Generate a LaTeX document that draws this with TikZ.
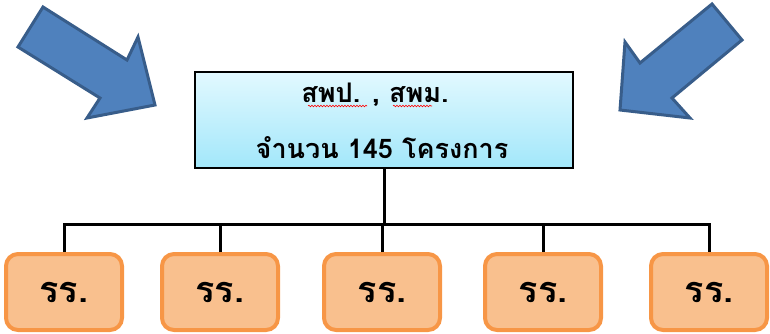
\documentclass[tikz,border=0pt]{standalone}
\usepackage{fontspec}
\newfontfamily\thaifont[Script=Thai]{Loma}
\usetikzlibrary{decorations.pathmorphing}
\definecolor{arrowfill}{HTML}{4F81BD}
\definecolor{arrowline}{HTML}{385D8A}
\definecolor{schoolfill}{HTML}{F9C08E}
\definecolor{schoolline}{HTML}{F79646}
\definecolor{boxtop}{HTML}{E2F9FF}
\definecolor{boxbottom}{HTML}{A2E7FA}
\begin{document}
\begin{tikzpicture}[x=1pt,y=-1pt,
    bigarrow/.style={fill=arrowfill,draw=arrowline,line width=3pt,line join=miter},
    topbox/.style={draw=black,line width=1.5pt,top color=boxtop,bottom color=boxbottom,
        minimum width=378pt,minimum height=96pt,inner sep=0pt},
    school/.style={draw=schoolline,fill=schoolfill,line width=4pt,rounded corners=12pt,
        minimum width=116pt,minimum height=76pt,font=\thaifont\bfseries\fontsize{36}{40}\selectfont},
    link/.style={line width=3pt,black},
    toptext/.style={font=\thaifont\bfseries\fontsize{27}{32}\selectfont},
    squiggle/.style={red,line width=0.6pt,decorate,decoration={snake,segment length=3pt,amplitude=0.8pt}}]
    \useasboundingbox (0,0) rectangle (770,333);
    % arrows pointing at the box
    \draw[bigarrow] (43,7) -- (127,60) -- (138,37) -- (155,105) -- (87,118) -- (100,98) -- (18,47) -- cycle;
    \draw[bigarrow] (712,4) -- (742,40) -- (672,98) -- (690,118) -- (620,110) -- (625,42) -- (640,63) -- cycle;
    % office box
    \node[topbox] (main) at (384,120) {};
    \node[toptext] (l1) at (375,95) {สพป. , สพม.};
    \node[toptext] (l2) at (382,148) {จำนวน 145 โครงการ};
    \draw[squiggle] (308,106) -- (367,106);
    \draw[squiggle] (393,106) -- (432,106);
    % schools
    \foreach \x [count=\i] in {64,220,382,543,709}
        \node[school] (s\i) at (\x,292) {รร.};
    \coordinate (bus) at (main.south |- 0,224);
    \draw[link] (main.south) -- (bus);
    \draw[link] (s1.north) |- (bus) -| (s5.north);
    \foreach \i in {2,3,4}
        \draw[link] (s\i.north) -- (s\i.north |- bus);
\end{tikzpicture}
\end{document}
